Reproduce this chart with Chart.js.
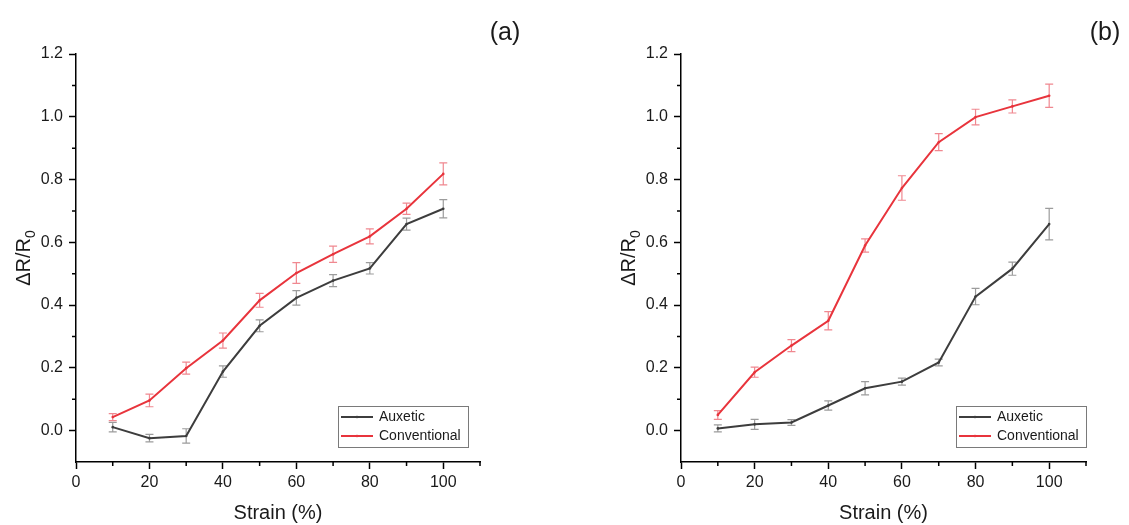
<!DOCTYPE html>
<html><head><meta charset="utf-8">
<script src="https://cdn.jsdelivr.net/npm/chart.js@4.4.1/dist/chart.umd.min.js"></script>
<style>
html,body{margin:0;padding:0;background:#fff;}
#wrap{position:relative;width:1129px;height:525px;overflow:hidden;background:#fff;}
canvas{position:absolute;top:0;}
</style></head><body>
<div id="wrap">
<canvas id="ca" width="600" height="525" style="left:0;width:600px;height:525px"></canvas>
<canvas id="cb" width="524" height="525" style="left:605px;width:524px;height:525px"></canvas>
</div>
<script>
const strain = [10,20,30,40,50,60,70,80,90,100];
const auxeticA = [0.011,-0.024,-0.017,0.188,0.334,0.423,0.478,0.517,0.658,0.707];
const auxeticAErr = [0.015,0.012,0.023,0.018,0.019,0.023,0.019,0.018,0.019,0.029];
const conventionalA = [0.043,0.096,0.199,0.287,0.415,0.502,0.562,0.619,0.707,0.818];
const conventionalAErr = [0.011,0.020,0.019,0.024,0.022,0.033,0.026,0.024,0.018,0.035];
const auxeticB = [0.007,0.020,0.026,0.080,0.135,0.156,0.217,0.427,0.516,0.658];
const auxeticBErr = [0.011,0.016,0.009,0.015,0.021,0.011,0.011,0.026,0.021,0.050];
const conventionalB = [0.050,0.186,0.271,0.350,0.590,0.773,0.919,0.999,1.033,1.067];
const conventionalBErr = [0.014,0.016,0.019,0.029,0.021,0.039,0.027,0.025,0.021,0.037];
const seriesNames = ['Auxetic','Conventional'];
const xTickValues = [0,20,40,60,80,100];
const xTickLabels = ['0','20','40','60','80','100'];
const yTickValues = [0,0.2,0.4,0.6,0.8,1.0,1.2];
const yTickLabels = ['0.0','0.2','0.4','0.6','0.8','1.0','1.2'];
const panelLabels = ['(a)','(b)'];
const xTitle = 'Strain (%)';
const yTitleMain = '\u0394R/R';
const yTitleSub = '0';

const FONT = '"Liberation Sans", Arial, Helvetica, sans-serif';
const COLORS = {aux:'#3d3d3d', conv:'#e8343c', auxErr:'#9c9c9c', convErr:'#f08890'};

function idxOf(vals, v){ return vals.findIndex(t => Math.abs(t - v) < 1e-6); }
function labelFor(vals, labels, v){ const i = idxOf(vals, v); return i < 0 ? '' : labels[i]; }
function isMajor(vals, v){ return idxOf(vals, v) >= 0; }

const errorBarPlugin = {
  id:'errorBars',
  beforeDatasetsDraw(chart){
    const {ctx, scales:{x,y}} = chart;
    chart.data.datasets.forEach(ds => {
      if(!ds.errors) return;
      ctx.save(); ctx.strokeStyle = ds.errorColor; ctx.lineWidth = 1.2;
      ds.data.forEach((p,i) => {
        const px = x.getPixelForValue(p.x), e = ds.errors[i];
        const y1 = y.getPixelForValue(p.y + e), y2 = y.getPixelForValue(p.y - e);
        ctx.beginPath();
        ctx.moveTo(px,y1); ctx.lineTo(px,y2);
        ctx.moveTo(px-4,y1); ctx.lineTo(px+4,y1);
        ctx.moveTo(px-4,y2); ctx.lineTo(px+4,y2);
        ctx.stroke();
      });
      ctx.restore();
    });
  }
};

const minorTickPlugin = {
  id:'minorTicks',
  afterDraw(chart){
    const {ctx, chartArea:a, scales:{x,y}} = chart;
    ctx.save(); ctx.strokeStyle='#000'; ctx.lineWidth=1.5; ctx.beginPath();
    y.ticks.forEach(t => {
      if(isMajor(yTickValues,t.value) || t.value < 0) return;
      const py = y.getPixelForValue(t.value);
      ctx.moveTo(a.left-4, py); ctx.lineTo(a.left, py);
    });
    x.ticks.forEach(t => {
      if(isMajor(xTickValues,t.value)) return;
      const px = x.getPixelForValue(t.value);
      ctx.moveTo(px, a.bottom); ctx.lineTo(px, a.bottom+4);
    });
    ctx.stroke(); ctx.restore();
  }
};

const insideLegendPlugin = {
  id:'insideLegend',
  afterDraw(chart, args, opts){
    const {ctx, chartArea:a} = chart;
    const w = 130, h = 41;
    const left = a.right - opts.rightOffset - w, top = a.bottom - 56;
    ctx.save();
    ctx.fillStyle = '#fff'; ctx.fillRect(left, top, w, h);
    ctx.strokeStyle = '#7a7a7a'; ctx.lineWidth = 1;
    ctx.strokeRect(left+0.5, top+0.5, w, h);
    ctx.font = '14px ' + FONT; ctx.textBaseline = 'middle'; ctx.textAlign = 'left';
    chart.data.datasets.forEach((ds, i) => {
      const ry = top + 11 + i*19;
      ctx.strokeStyle = ds.borderColor; ctx.lineWidth = 2;
      ctx.beginPath(); ctx.moveTo(left+3, ry); ctx.lineTo(left+35, ry); ctx.stroke();
      ctx.fillStyle = ds.borderColor;
      ctx.beginPath(); ctx.arc(left+19, ry, 1.3, 0, Math.PI*2); ctx.fill();
      ctx.fillStyle = '#1a1a1a';
      ctx.fillText(ds.label, left+41, ry+0.5);
    });
    ctx.restore();
  }
};

const textPlugin = {
  id:'panelText',
  afterDraw(chart, args, opts){
    const {ctx, chartArea:a} = chart;
    ctx.save();
    ctx.fillStyle = '#1a1a1a';
    ctx.font = '25px ' + FONT; ctx.textAlign = 'center'; ctx.textBaseline = 'middle';
    ctx.fillText(opts.label, opts.labelX, opts.labelY);
    // y title with subscript
    const cy = (a.top + a.bottom) / 2;
    ctx.translate(a.left - 46, cy);
    ctx.rotate(-Math.PI/2);
    ctx.font = '20px ' + FONT;
    const wMain = ctx.measureText(yTitleMain).width;
    ctx.font = '14px ' + FONT;
    const wSub = ctx.measureText(yTitleSub).width;
    const start = -(wMain + wSub) / 2;
    ctx.textAlign = 'left'; ctx.textBaseline = 'alphabetic';
    ctx.font = '20px ' + FONT;
    ctx.fillText(yTitleMain, start, 0);
    ctx.font = '14px ' + FONT;
    ctx.fillText(yTitleSub, start + wMain, 5);
    ctx.restore();
  }
};

function makeChart(id, aux, auxErr, conv, convErr, padRight, legendOffset, label, labelX){
  const ds = (name, vals, errs, color, errColor) => ({
    label: name,
    data: strain.map((s,i) => ({x:s, y:vals[i]})),
    errors: errs,
    errorColor: errColor,
    borderColor: color, backgroundColor: color,
    borderWidth: 2, pointRadius: 1.3, pointHoverRadius: 1.3,
    pointBackgroundColor: color, pointBorderWidth: 0,
    tension: 0, fill: false
  });
  return new Chart(document.getElementById(id), {
    type:'line',
    data:{ datasets:[
      ds(seriesNames[0], aux, auxErr, COLORS.aux, COLORS.auxErr),
      ds(seriesNames[1], conv, convErr, COLORS.conv, COLORS.convErr)
    ]},
    options:{
      responsive:false, animation:false, devicePixelRatio:1,
      layout:{ padding:{top:54, right:padRight, bottom:0, left:0} },
      plugins:{
        legend:{display:false}, tooltip:{enabled:false},
        insideLegend:{rightOffset:legendOffset},
        panelText:{label:label, labelX:labelX, labelY:33}
      },
      scales:{
        x:{
          type:'linear', min:0, max:110,
          afterFit: s => { s.height = 63; },
          border:{display:true, color:'#000', width:1.5},
          grid:{display:true, drawOnChartArea:false, drawTicks:true, tickLength:7, tickWidth:1.5,
                tickColor: c => isMajor(xTickValues, c.tick.value) ? '#000' : 'rgba(0,0,0,0)'},
          ticks:{stepSize:10, autoSkip:false, maxRotation:0, padding:4, color:'#1a1a1a',
                 font:{family:FONT, size:16},
                 callback: v => labelFor(xTickValues, xTickLabels, v)},
          title:{display:true, text:xTitle, color:'#1a1a1a', font:{family:FONT, size:20, lineHeight:1.2},
                 padding:{top:0, bottom:0}}
        },
        y:{
          type:'linear', min:-0.1, max:1.2,
          afterFit: s => { s.width = 76; },
          border:{display:true, color:'#000', width:1.5},
          grid:{display:true, drawOnChartArea:false, drawTicks:true, tickLength:7, tickWidth:1.5,
                tickColor: c => isMajor(yTickValues, c.tick.value) ? '#000' : 'rgba(0,0,0,0)'},
          ticks:{stepSize:0.1, autoSkip:false, padding:6, color:'#1a1a1a',
                 font:{family:FONT, size:16},
                 callback: v => labelFor(yTickValues, yTickLabels, v)}
        }
      }
    },
    plugins:[errorBarPlugin, minorTickPlugin, insideLegendPlugin, textPlugin]
  });
}

makeChart('ca', auxeticA, auxeticAErr, conventionalA, conventionalAErr, 120, 12, panelLabels[0], 505);
makeChart('cb', auxeticB, auxeticBErr, conventionalB, conventionalBErr, 43, 0, panelLabels[1], 500);
</script>
</body></html>
